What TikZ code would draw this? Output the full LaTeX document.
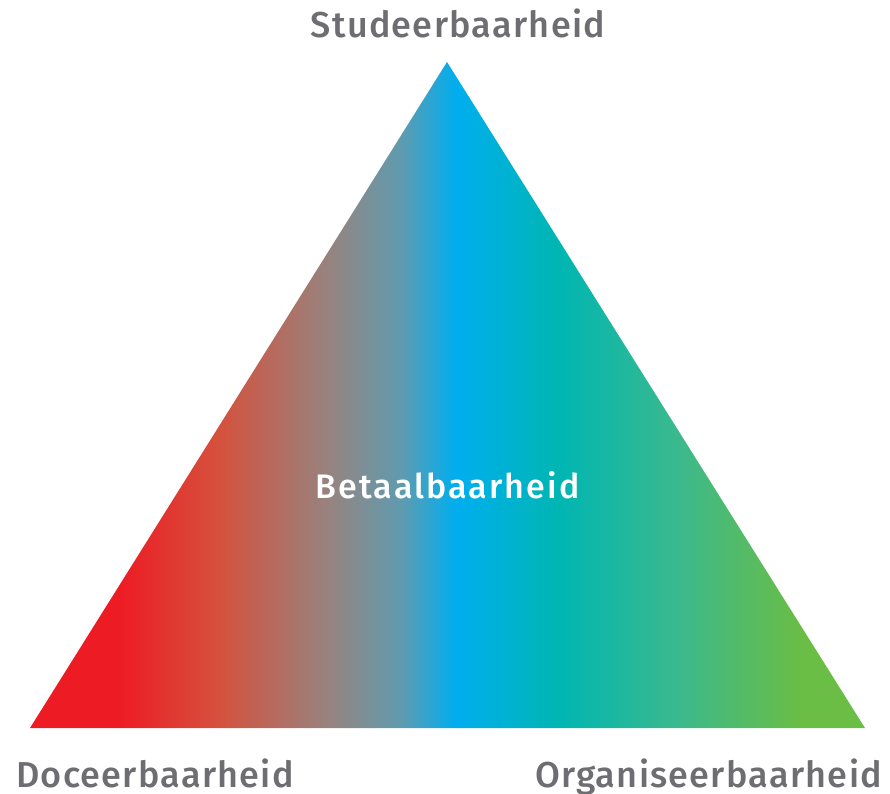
\documentclass[tikz,border=0pt]{standalone}
\usepackage{fontspec}
\setmainfont{Fira Sans}[UprightFont=* Medium]
\definecolor{lbl}{RGB}{110,110,114}
\definecolor{cA}{RGB}{237,28,36}
\definecolor{cB}{RGB}{212,82,62}
\definecolor{cC}{RGB}{150,132,128}
\definecolor{cD}{RGB}{95,155,175}
\definecolor{cE}{RGB}{0,174,239}
\definecolor{cF}{RGB}{0,182,178}
\definecolor{cG}{RGB}{60,185,140}
\definecolor{cH}{RGB}{106,189,69}
\pgfdeclarehorizontalshading{tri}{100bp}{
  color(0bp)=(cA); color(30.4bp)=(cA); color(36.4bp)=(cB); color(43bp)=(cC);
  color(47.2bp)=(cD); color(50.5bp)=(cE); color(56.7bp)=(cF); color(63.9bp)=(cG);
  color(71.1bp)=(cH); color(100bp)=(cH)}
\tikzset{lab/.style={text=lbl, font=\fontsize{36}{40}\selectfont\addfontfeature{LetterSpace=3.5}, inner sep=0pt, anchor=base},
  inlab/.style={text=white, font=\fontsize{34}{38}\selectfont\addfontfeature{LetterSpace=6}, inner sep=0pt, anchor=base}}
\begin{document}
\begin{tikzpicture}[x=1pt,y=-1pt]
\useasboundingbox (0,0) rectangle (890,793);
\coordinate (top) at (447,62);
\coordinate (bl) at (30,728);
\coordinate (br) at (865,728);
\shade[shading=tri] (top) -- (br) -- (bl) -- cycle;
\node[lab] (s) at (458,37) {Studeerbaarheid};
\node[inlab] (b) at (447.5,498) {Betaalbaarheid};
\node[lab] (d) at (155,787) {Doceerbaarheid};
\node[lab] (o) at (708.5,787) {Organiseerbaarheid};
\end{tikzpicture}
\end{document}
